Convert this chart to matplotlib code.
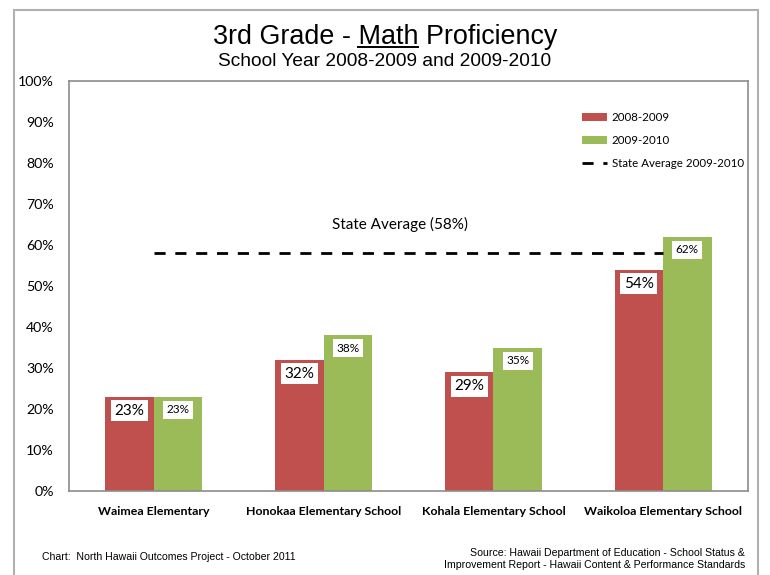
import numpy as np
import matplotlib.pyplot as plt
from matplotlib.patches import Rectangle
from matplotlib.lines import Line2D

schools = ['Waimea Elementary', 'Honokaa Elementary School',
           'Kohala Elementary School', 'Waikoloa Elementary School']
y2009 = [23, 32, 29, 54]
y2010 = [23, 38, 35, 62]
state_avg = 58

red = '#C0504D'
green = '#9BBB59'
body = ['Lato', 'DejaVu Sans']
arial = ['Liberation Sans', 'DejaVu Sans']

fig = plt.figure(figsize=(7.7, 5.75), dpi=100)
ax = fig.add_axes([69/770, 1 - 491/575, 679/770, 410/575])

# outer frame
fig.patches.append(Rectangle((14/770, -0.05), 744/770, 1.05 - 10/575,
                             transform=fig.transFigure, fill=False,
                             edgecolor='#b0b0b0', lw=1.5))

x = np.arange(len(schools))
w = 0.285
b1 = ax.bar(x - w/2, y2009, w, color=red, label='2008-2009')
b2 = ax.bar(x + w/2, y2010, w, color=green, label='2009-2010')
ln, = ax.plot([x[0], x[-1]], [state_avg, state_avg], color='black', lw=2,
              dashes=(4, 3.5), label='State Average 2009-2010')
ax.text(1.45, 65, 'State Average (58%)', ha='center', va='center',
        fontsize=11, family=body)

box = dict(facecolor='white', edgecolor='none', pad=2.5)
for i in range(len(schools)):
    ax.text(x[i] - w/2, y2009[i] - 3.4, f'{y2009[i]}%', ha='center', va='center',
            fontsize=11, family=body, bbox=box)
    ax.text(x[i] + w/2, y2010[i] - 3.2, f'{y2010[i]}%', ha='center', va='center',
            fontsize=8.5, family=body, bbox=box)

ax.set_xlim(-0.5, 3.5)
ax.set_ylim(0, 100)
ax.set_yticks(range(0, 101, 10))
ax.set_yticklabels([f'{v}%' for v in range(0, 101, 10)], family=body, fontsize=10.2)
ax.set_xticks(x)
ax.set_xticklabels(schools, family=body, fontsize=8.9, fontweight='bold')
ax.tick_params(axis='y', length=0, pad=11)
ax.tick_params(axis='x', length=0, pad=11)
for s in ax.spines.values():
    s.set_color('#8c8c8c')
    s.set_linewidth(1.2)

ax.legend(handles=[b1, b2, ln], loc='upper left', bbox_to_anchor=(0.74, 0.95),
          frameon=False, prop={'family': body, 'size': 8.3}, handlelength=2.2,
          labelspacing=1.05, handletextpad=0.4)

# title with "Math" underlined
title = '3rd Grade - Math Proficiency'
ty = 1 - 37/575
t = fig.text(0.5, ty, title, ha='center', va='center', fontsize=19.4, family=arial)
r = fig.canvas.get_renderer()
full = t.get_window_extent(r)
pre = fig.text(0, 0, '3rd Grade - ', fontsize=19.4, family=arial)
word = fig.text(0, 0, 'Math', fontsize=19.4, family=arial)
pw = pre.get_window_extent(r).width
ww = word.get_window_extent(r).width
pre.remove()
word.remove()
x0 = (full.x0 + pw) / 770
x1 = (full.x0 + pw + ww) / 770
uy = (full.y0 + 3) / 575
fig.add_artist(Line2D([x0, x1], [uy, uy], transform=fig.transFigure,
                      color='black', lw=1.4))

fig.text(0.5, 1 - 61/575, 'School Year 2008-2009 and 2009-2010',
         ha='center', va='center', fontsize=13.8, family=arial)
fig.text(42/770, 1 - 557/575, 'Chart:  North Hawaii Outcomes Project - October 2011',
         ha='left', va='center', fontsize=7.6, family=arial)
fig.text(745/770, 1 - 559/575,
         'Source: Hawaii Department of Education - School Status &\n'
         'Improvement Report - Hawaii Content & Performance Standards',
         ha='right', va='center', fontsize=7.6, family=arial, linespacing=1.2,
         multialignment='right')

fig.savefig('out.png', dpi=100)
